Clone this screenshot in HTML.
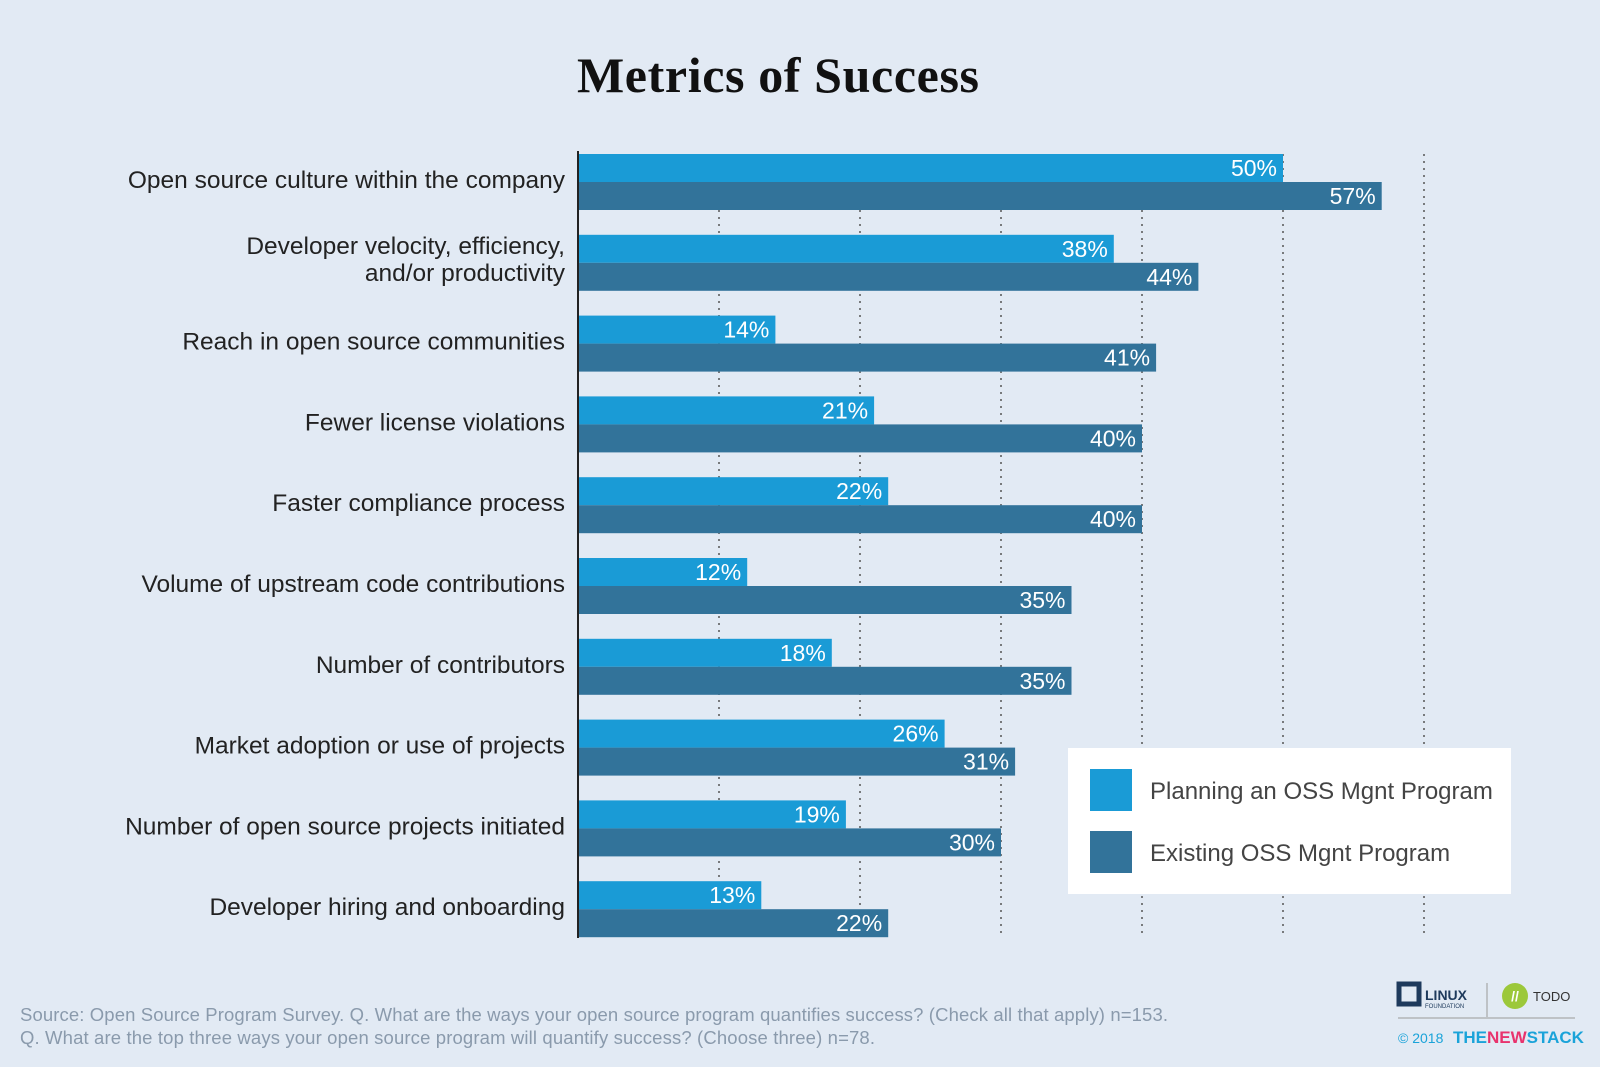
<!DOCTYPE html>
<html><head><meta charset="utf-8"><style>
body{margin:0;width:1600px;height:1067px;background:#e2eaf4;overflow:hidden;font-family:"Liberation Sans",sans-serif}
</style></head><body>
<svg id="chart" width="1600" height="1067" xmlns="http://www.w3.org/2000/svg" style="position:absolute;left:0;top:0">
<text x="778" y="92" text-anchor="middle" font-family="Liberation Serif,serif" font-weight="bold" font-size="50" textLength="402" fill="#111">Metrics of Success</text>
<g id="grid"></g><g id="bars"></g><g id="labels"></g>
<line x1="578" y1="151" x2="578" y2="938" stroke="#222" stroke-width="2"/>
<g>
<rect x="1068" y="748" width="443" height="146" fill="#fff"/>
<rect x="1090" y="769" width="42" height="42" fill="#1a9bd6"/>
<text x="1150" y="799" font-size="24" fill="#444">Planning an OSS Mgnt Program</text>
<rect x="1090" y="831" width="42" height="42" fill="#32739a"/>
<text x="1150" y="861" font-size="24" fill="#444">Existing OSS Mgnt Program</text>
</g>
<text x="20" y="1021" font-size="18.5" textLength="1148" fill="#8a9aac">Source: Open Source Program Survey. Q. What are the ways your open source program quantifies success? (Check all that apply) n=153.</text>
<text x="20" y="1044" font-size="18.5" textLength="855" fill="#8a9aac">Q. What are the top three ways your open source program will quantify success? (Choose three) n=78.</text>
<g>
<rect x="1399" y="984" width="20" height="20" fill="none" stroke="#1e3a5c" stroke-width="5"/>
<text x="1425" y="1000" font-size="14" font-weight="bold" fill="#1e3a5c">LINUX</text>
<text x="1425" y="1008" font-size="6" fill="#1e3a5c">FOUNDATION</text>
</g>
<line x1="1487" y1="983" x2="1487" y2="1017" stroke="#999"/>
<circle cx="1515" cy="996" r="13" fill="#9cc83a"/>
<text x="1515" y="1001" text-anchor="middle" font-size="14" font-weight="bold" fill="#fff">//</text>
<text x="1533" y="1001" font-size="13" fill="#333">TODO</text>
<line x1="1398" y1="1018" x2="1575" y2="1018" stroke="#999"/>
<text x="1398" y="1043" font-size="14" fill="#1aa3d9">© 2018</text>
<text x="1453" y="1043" font-size="17" font-weight="bold" fill="#1aa3d9">THE<tspan fill="#e8336d">NEW</tspan>STACK</text>
</svg>
<script>
const categories=["Open source culture within the company","Developer velocity, efficiency,|and/or productivity","Reach in open source communities","Fewer license violations","Faster compliance process","Volume of upstream code contributions","Number of contributors","Market adoption or use of projects","Number of open source projects initiated","Developer hiring and onboarding"];
const planning=[50,38,14,21,22,12,18,26,19,13];
const existing=[57,44,41,40,40,35,35,31,30,22];
const ticks=[10,20,30,40,50,60];
const NS="http://www.w3.org/2000/svg";
const x0=578,scale=14.1,top0=154,pitch=80.8,bh=28;
const xs=v=>x0+v*scale;
function mk(t,a,p){const e=document.createElementNS(NS,t);for(const k in a)e.setAttribute(k,a[k]);p.appendChild(e);return e;}
const grid=document.getElementById('grid'),bars=document.getElementById('bars'),labels=document.getElementById('labels');
ticks.forEach(t=>{const l=mk('line',{x1:xs(t),x2:xs(t),y1:154,y2:938,stroke:'#555','stroke-width':1.5,'stroke-dasharray':'2,5'},grid);

});
categories.forEach((c,i)=>{
 const y=top0+i*pitch;
 [[planning[i],'#1a9bd6','planning'],[existing[i],'#32739a','existing']].forEach((s,j)=>{
  const r=mk('rect',{x:x0,y:y+j*bh,width:xs(s[0])-x0,height:bh,fill:s[1]},bars);
  
  
  const t=mk('text',{x:xs(s[0])-6,y:y+j*bh+22,'text-anchor':'end','font-size':23,fill:'#fff'},bars);
  t.textContent=s[0]+'%';
  
  
 });
 const parts=c.split('|');
 parts.forEach((p,k)=>{
  const yy=parts.length==1?y+34:y+19+k*27;
  const t=mk('text',{x:565,y:yy,'text-anchor':'end','font-size':24.5,fill:'#222'},labels);
  t.textContent=p;
  
  
 });
});
</script>
</body></html>
